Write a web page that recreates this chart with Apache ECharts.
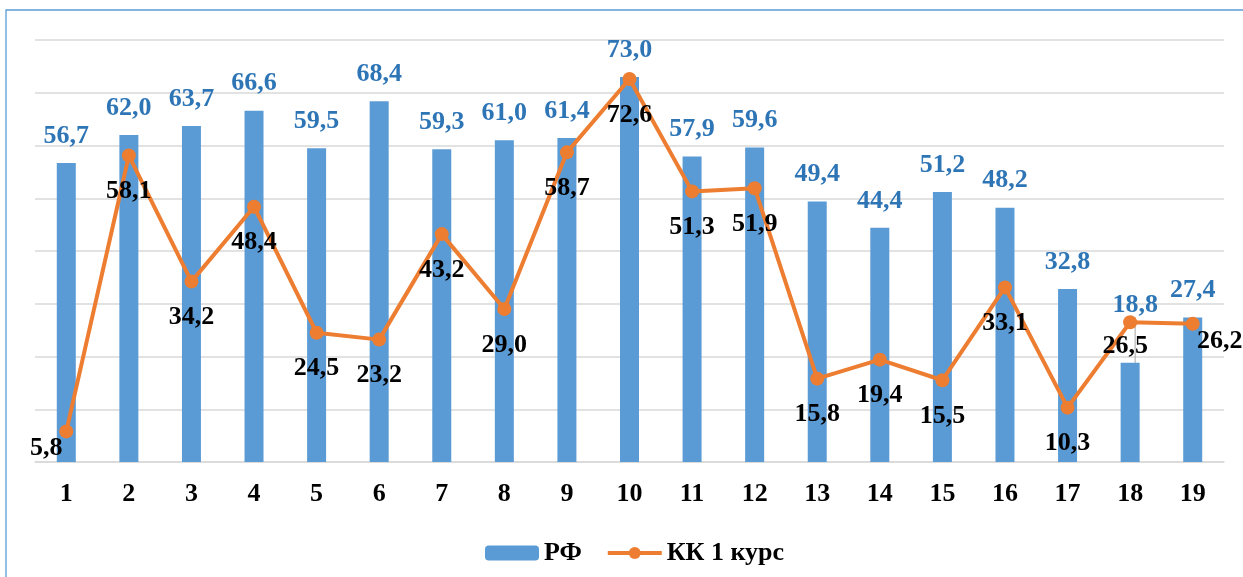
<!DOCTYPE html>
<html>
<head>
<meta charset="utf-8">
<script src="https://cdn.jsdelivr.net/npm/echarts@6/dist/echarts.min.js"></script>
<style>
    html, body { margin: 0; padding: 0; background: #fff; }
    #chart { width: 1243px; height: 577px; }
</style>
</head>
<body>
<div id="chart"></div>
<script>
const categories = ['1', '2', '3', '4', '5', '6', '7', '8', '9', '10', '11', '12', '13', '14', '15', '16', '17', '18', '19']
const rfValues = [56.7, 62.0, 63.7, 66.6, 59.5, 68.4, 59.3, 61.0, 61.4, 73.0, 57.9, 59.6, 49.4, 44.4, 51.2, 48.2, 32.8, 18.8, 27.4]
const kkValues = [5.8, 58.1, 34.2, 48.4, 24.5, 23.2, 43.2, 29.0, 58.7, 72.6, 51.3, 51.9, 15.8, 19.4, 15.5, 33.1, 10.3, 26.5, 26.2]
const seriesNames = ['РФ', 'КК 1 курс']

const font = "'Liberation Serif', 'Times New Roman', serif"
const fmt = v => v.toFixed(1).replace('.', ',')

// labels moved by hand in the original
const kkLabelOffset = { 0: [-20, -19], 17: [-5, -12], 18: [27, -19] }
const rfLabelMove = { 17: [5, -31] }

const chart = echarts.init(document.getElementById('chart'))
chart.setOption({
    animation: false,
    grid: { left: 35, right: 19, top: 40, bottom: 115 },
    graphic: [{
        type: 'rect',
        shape: { x: 6, y: 10, width: 1400, height: 800 },
        style: { fill: 'none', stroke: '#5B9BD5', lineWidth: 1.3 },
        silent: true
    }],
    legend: {
        left: 480,
        top: 535,
        itemWidth: 54,
        itemHeight: 15,
        itemGap: 24,
        textStyle: { fontFamily: font, fontWeight: 'bold', fontSize: 26, color: '#000' },
        data: [
            { name: seriesNames[0] },
            { name: seriesNames[1], lineStyle: { width: 4 } }
        ]
    },
    xAxis: {
        type: 'category',
        data: categories,
        axisLine: { lineStyle: { color: '#D9D9D9', width: 1.5 } },
        axisTick: { show: false },
        axisLabel: { fontFamily: font, fontWeight: 'bold', fontSize: 26, color: '#000', margin: 19 }
    },
    yAxis: {
        type: 'value',
        min: 0,
        max: 80,
        interval: 10,
        axisLabel: { show: false },
        axisLine: { show: false },
        splitLine: { lineStyle: { color: '#D9D9D9', width: 1.5 } }
    },
    series: [
        {
            name: seriesNames[0],
            type: 'bar',
            barWidth: 19,
            itemStyle: { color: '#5B9BD5' },
            label: {
                show: true,
                position: 'top',
                distance: 14,
                fontFamily: font,
                fontWeight: 'bold',
                fontSize: 26,
                color: '#2E75B6',
                formatter: p => fmt(p.value)
            },
            labelLine: { show: false, lineStyle: { color: '#A6A6A6', width: 1 } },
            labelLayout: p => rfLabelMove[p.dataIndex]
                ? { dx: rfLabelMove[p.dataIndex][0], dy: rfLabelMove[p.dataIndex][1] }
                : {},
            data: rfValues.map((v, i) => rfLabelMove[i]
                ? { value: v, labelLine: { show: true } }
                : v)
        },
        {
            name: seriesNames[1],
            type: 'line',
            symbol: 'circle',
            symbolSize: 14,
            lineStyle: { color: '#ED7D31', width: 4 },
            itemStyle: { color: '#ED7D31' },
            label: {
                show: true,
                position: 'bottom',
                distance: 16,
                fontFamily: font,
                fontWeight: 'bold',
                fontSize: 26,
                color: '#000',
                formatter: p => fmt(p.value)
            },
            data: kkValues.map((v, i) => kkLabelOffset[i]
                ? { value: v, label: { offset: kkLabelOffset[i] } }
                : v)
        }
    ]
})
</script>
</body>
</html>
